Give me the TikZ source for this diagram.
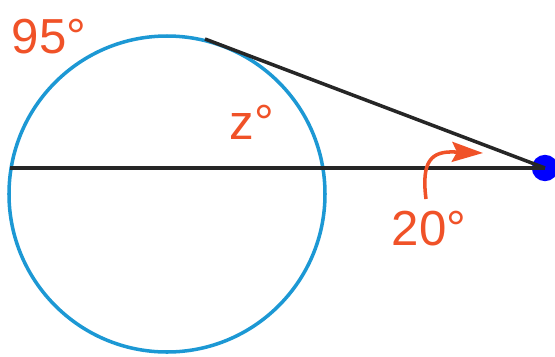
\documentclass[tikz,border=0pt]{standalone}
\usepackage{fontspec}
\setmainfont{Liberation Sans}
\usetikzlibrary{positioning, arrows.meta, calc}

\definecolor{arcblue}{RGB}{28,152,212}
\definecolor{angred}{RGB}{240,82,40}

\begin{document}
\begin{tikzpicture}[
    x=0.02cm, y=-0.02cm,
    font=\fontsize{28}{30}\selectfont,
    seg/.style={black!85, line width=2pt},
    lbl/.style={text=angred, inner sep=0pt}
]

% Frame
\useasboundingbox (0,0) rectangle (555,356);

% Dimensions
\def\rad{158}

% Circle
\coordinate (O) at (167,194);
\draw[arcblue, line width=2pt] (O) circle[radius=\rad];

% Secant and tangent
\coordinate (S) at (10,168);
\coordinate (T) at (205,39);
\node[circle, fill=blue, inner sep=0pt, minimum size=15pt] (P) at (545,168) {};
\draw[seg] (S) -- (P.center);
\draw[seg] (T) -- (P.center);

% Labels
\node[lbl] (arcbig) at (49,37) {95°};
\node[lbl] (arcsmall) at (252,122) {z°};
\node[lbl] (ang) at (429,229) {20°};

% Turn arrow
\coordinate (turnA) at (426,199);
\coordinate (turnB) at (483,153);
\draw[angred, line width=2pt, -{Stealth[length=0.62cm, width=0.4cm, inset=0.1cm]}]
    (turnA) .. controls (421,160) and (432,151) .. (455,152) -- (turnB);

\end{tikzpicture}
\end{document}
